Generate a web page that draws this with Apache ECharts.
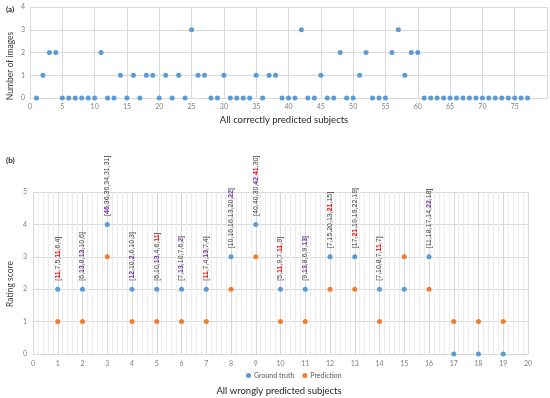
<!DOCTYPE html>
<html>
<head>
<meta charset="utf-8">
<script src="https://cdn.jsdelivr.net/npm/echarts@6/dist/echarts.min.js"></script>
<style>html,body{margin:0;padding:0;background:#fff}#c{width:550px;height:398px}</style>
</head>
<body>
<div id="c"></div>
<script>
// ---- Chart (a): all correctly predicted subjects ----
const correctSubjects = Array.from({length: 77}, (_, i) => i + 1);
const correctImages = [
  0,1,2,2,0,0,0,0,0,0,
  2,0,0,1,0,1,0,1,1,0,
  1,0,1,0,3,1,1,0,0,1,
  0,0,0,0,1,0,1,1,0,0,
  0,3,0,0,1,0,0,2,0,0,
  1,2,0,0,0,2,3,1,2,2,
  0,0,0,0,0,0,0,0,0,0,
  0,0,0,0,0,0,0
];
const aXTicks = [0,5,10,15,20,25,30,35,40,45,50,55,60,65,70,75];
const aYTicks = [0,1,2,3,4];

// ---- Chart (b): all wrongly predicted subjects ----
const wrongSubjects = [1,2,3,4,5,6,7,8,9,10,11,12,13,14,15,16,17,18,19];
const groundTruth = [2,2,4,2,2,2,2,3,4,2,2,3,3,2,2,3,0,0,0];
const prediction  = [1,1,3,1,1,1,1,2,3,1,1,2,2,1,3,2,1,1,1];
const bXTicks = [0,1,2,3,4,5,6,7,8,9,10,11,12,13,14,15,16,17,18,19,20];
const bYTicks = [0,1,2,3,4,5];
// annotation values on the ground-truth points (null = no annotation)
const annoValues = [
  [11,7,5,11,6,4],
  [6,13,8,13,10,6],
  [46,36,36,34,31,31],
  [12,10,2,6,10,3],
  [6,10,13,4,6,11],
  [7,13,10,7,6,2],
  [11,7,4,13,7,4],
  [10,16,16,13,20,22],
  [40,40,30,42,41,30],
  [5,11,9,7,11,9],
  [9,13,8,6,9,13],
  [7,15,20,13,21,15],
  [17,21,19,19,22,19],
  [7,10,8,7,11,7],
  null,
  [11,18,17,14,22,18],
  null, null, null
];
// highlight of each annotation value: r = red, p = purple, - = plain
const annoMarks = [
  ['r','-','-','r','-','-'],
  ['-','p','-','p','-','-'],
  ['p','-','-','-','-','-'],
  ['p','-','p','-','-','-'],
  ['-','-','p','-','-','r'],
  ['-','p','-','-','-','p'],
  ['r','-','-','p','-','-'],
  ['-','-','-','-','-','p'],
  ['-','-','-','p','r','-'],
  ['-','r','-','-','r','-'],
  ['-','p','-','-','-','p'],
  ['-','-','-','-','r','-'],
  ['-','r','-','-','-','-'],
  ['-','-','-','-','r','-'],
  null,
  ['-','-','-','-','p','-'],
  null, null, null
];

const BLUE = '#5b9bd5', ORANGE = '#ed7d31';
const GRID = '#d9d9d9', TICK = '#808080';
const FONT = 'Lato, "Open Sans", sans-serif';

function annoText(i) {
  const v = annoValues[i];
  if (!v) return '';
  const parts = v.map((n, k) => {
    const m = annoMarks[i][k];
    return m === 'r' ? '{r|' + n + '}' : m === 'p' ? '{p|' + n + '}' : String(n);
  });
  return '[' + parts.join(',') + ']';
}

const chart = echarts.init(document.getElementById('c'), null, {renderer: 'canvas'});
const tickLabel = {color: TICK, fontSize: 7, fontFamily: FONT};

chart.setOption({
  animation: false,
  textStyle: {fontFamily: FONT},
  grid: [
    {left: 30, right: -7, top: 7, bottom: 300, containLabel: false},
    {left: 33, right: 22, top: 192, bottom: 44, containLabel: false}
  ],
  xAxis: [
    {
      gridIndex: 0, type: 'value', min: 0, max: 80, interval: 5,
      axisLine: {show: true, lineStyle: {color: GRID}},
      axisTick: {show: false},
      axisLabel: Object.assign({margin: 5, formatter: v => aXTicks.includes(v) ? String(v) : ''}, tickLabel),
      splitLine: {show: true, lineStyle: {color: GRID, width: 1}}
    },
    {
      gridIndex: 1, type: 'value', min: 0, max: 20, interval: 1,
      axisLine: {show: true, lineStyle: {color: GRID}},
      axisTick: {show: false},
      axisLabel: Object.assign({margin: 6, formatter: v => bXTicks.includes(v) ? String(v) : ''}, tickLabel),
      splitLine: {show: true, lineStyle: {color: GRID, width: 1}},
      minorTick: {show: false, splitNumber: 5},
      minorSplitLine: {show: true, lineStyle: {color: '#ececec', width: 1}}
    }
  ],
  yAxis: [
    {
      gridIndex: 0, type: 'value', min: 0, max: 4, interval: 1,
      axisLine: {show: false}, axisTick: {show: false},
      axisLabel: Object.assign({margin: 5, formatter: v => aYTicks.includes(v) ? String(v) : ''}, tickLabel),
      splitLine: {show: true, lineStyle: {color: GRID, width: 1}}
    },
    {
      gridIndex: 1, type: 'value', min: 0, max: 5, interval: 1,
      axisLine: {show: false}, axisTick: {show: false},
      axisLabel: Object.assign({margin: 6, formatter: v => bYTicks.includes(v) ? String(v) : ''}, tickLabel),
      splitLine: {show: true, lineStyle: {color: GRID, width: 1}}
    }
  ],
  legend: {
    data: ['Ground truth', 'Prediction'],
    left: 241, top: 367,
    icon: 'circle', itemWidth: 5, itemHeight: 5, itemGap: 8,
    textStyle: {color: '#595959', fontSize: 7, fontFamily: FONT, padding: [0, 0, 0, -2]}
  },
  series: [
    {
      name: 'Number of images', type: 'scatter', xAxisIndex: 0, yAxisIndex: 0,
      symbolSize: 5, itemStyle: {color: BLUE, opacity: 1},
      data: correctSubjects.map((s, i) => [s, correctImages[i]])
    },
    {
      name: 'Ground truth', type: 'scatter', xAxisIndex: 1, yAxisIndex: 1,
      symbolSize: 5, itemStyle: {color: BLUE, opacity: 1}, z: 3,
      data: wrongSubjects.map((s, i) => [s, groundTruth[i]]),
      label: {
        show: true, position: 'top', distance: 6, rotate: 90,
        align: 'left', verticalAlign: 'middle',
        color: '#404040', fontSize: 7, fontFamily: 'Liberation Sans, sans-serif',
        formatter: p => annoText(p.dataIndex),
        rich: {
          r: {color: '#ff0000', fontWeight: 'bold', fontSize: 7, fontFamily: 'Liberation Sans, sans-serif'},
          p: {color: '#7030a0', fontWeight: 'bold', fontSize: 7, fontFamily: 'Liberation Sans, sans-serif'}
        }
      }
    },
    {
      name: 'Prediction', type: 'scatter', xAxisIndex: 1, yAxisIndex: 1,
      symbolSize: 5, itemStyle: {color: ORANGE, opacity: 1}, z: 3,
      data: wrongSubjects.map((s, i) => [s, prediction[i]])
    }
  ],
  graphic: [
    {type: 'text', left: 6, top: 5, style: {text: '(a)', font: 'bold 8px ' + FONT, fill: '#262626'}},
    {type: 'text', x: 10, y: 66, rotation: Math.PI / 2,
      style: {text: 'Number of images', font: '8.5px ' + FONT, fill: '#404040', align: 'center', verticalAlign: 'middle'}},
    {type: 'text', x: 284, y: 120,
      style: {text: 'All correctly predicted subjects', font: '9.5px ' + FONT, fill: '#262626', align: 'center', verticalAlign: 'middle'}},
    {type: 'text', left: 6, top: 156, style: {text: '(b)', font: 'bold 8px ' + FONT, fill: '#262626'}},
    {type: 'text', x: 10, y: 284, rotation: Math.PI / 2,
      style: {text: 'Rating score', font: '8.5px ' + FONT, fill: '#404040', align: 'center', verticalAlign: 'middle'}},
    {type: 'text', x: 279, y: 391,
      style: {text: 'All wrongly predicted subjects', font: '9.5px ' + FONT, fill: '#262626', align: 'center', verticalAlign: 'middle'}}
  ]
});
</script>
</body>
</html>
